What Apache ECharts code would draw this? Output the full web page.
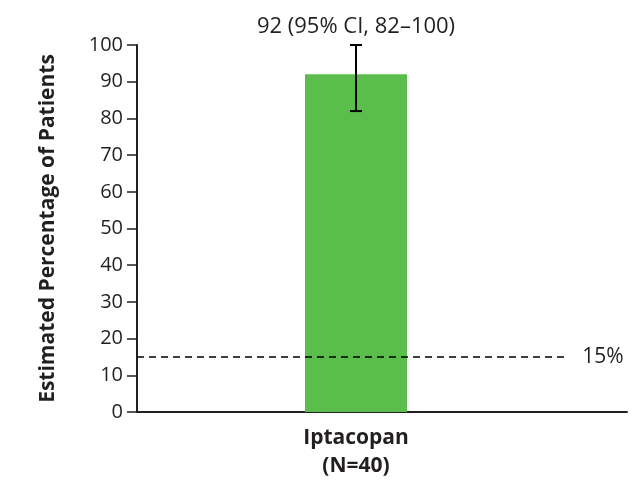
<!DOCTYPE html>
<html>
<head>
<meta charset="utf-8">
<script src="https://cdn.jsdelivr.net/npm/echarts@6/dist/echarts.min.js"></script>
<style>
  html, body { margin: 0; padding: 0; background: #fff; }
  #chart { width: 644px; height: 490px; }
</style>
</head>
<body>
<div id="chart"></div>
<script>
var categories = ['Iptacopan\n(N=40)']
var estimates = [92]
var ciLower = [82]
var ciUpper = [100]
var threshold = 15
var yMin = 0
var yMax = 100
var yStep = 10

var ink = '#231f20'
var font = '"Open Sans", "Noto Sans", sans-serif'

var chart = echarts.init(document.getElementById('chart'))

var errData = categories.map(function (c, i) {
  return [i, ciLower[i], ciUpper[i], estimates[i]]
})

var option = {
  animation: false,
  grid: [
    { left: 137, right: 17, top: 45, bottom: 78 },
    { left: 137, right: 69, top: 45, bottom: 78 }
  ],
  xAxis: [
    {
      gridIndex: 0,
      type: 'value',
      min: 0,
      max: 1,
      axisLine: { show: true, lineStyle: { color: ink, width: 2 } },
      axisTick: { show: false },
      axisLabel: { show: false },
      splitLine: { show: false }
    },
    {
      gridIndex: 1,
      type: 'category',
      data: categories,
      axisLine: { show: false },
      axisTick: { show: false },
      axisLabel: {
        margin: 12,
        color: ink,
        fontFamily: font,
        fontSize: 21,
        fontWeight: 'bold',
        lineHeight: 28
      }
    }
  ],
  yAxis: [
    {
      gridIndex: 0,
      type: 'value',
      min: yMin,
      max: yMax,
      interval: yStep,
      name: 'Estimated Percentage of Patients',
      nameLocation: 'middle',
      nameGap: 78,
      nameTextStyle: { color: ink, fontFamily: font, fontSize: 21, fontWeight: 'bold' },
      axisLine: { show: true, lineStyle: { color: ink, width: 2 } },
      axisTick: { show: true, length: 10, lineStyle: { color: ink, width: 1.5 } },
      axisLabel: { margin: 14, color: ink, fontFamily: font, fontSize: 20 },
      splitLine: { show: false }
    },
    {
      gridIndex: 1,
      type: 'value',
      min: yMin,
      max: yMax,
      show: false
    }
  ],
  series: [
    {
      type: 'line',
      xAxisIndex: 0,
      yAxisIndex: 0,
      data: [],
      silent: true,
      markLine: {
        silent: true,
        symbol: 'none',
        animation: false,
        lineStyle: { color: '#000', type: [7, 5], width: 1.6 },
        label: {
          show: true,
          position: 'end',
          distance: 14,
          formatter: threshold + '%',
          color: ink,
          fontFamily: font,
          fontSize: 21
        },
        data: [[{ coord: [0, threshold] }, { coord: [0.88, threshold] }]]
      }
    },
    {
      type: 'bar',
      xAxisIndex: 1,
      yAxisIndex: 1,
      data: estimates,
      barWidth: 102,
      itemStyle: { color: '#5bbd4c' },
      z: 1
    },
    {
      type: 'custom',
      xAxisIndex: 1,
      yAxisIndex: 1,
      data: errData,
      z: 5,
      renderItem: function (params, api) {
        var idx = api.value(0)
        var lo = api.coord([idx, api.value(1)])
        var hi = api.coord([idx, api.value(2)])
        var half = 6
        var st = { stroke: '#000', lineWidth: 2 }
        return {
          type: 'group',
          children: [
            { type: 'line', shape: { x1: lo[0], y1: lo[1], x2: hi[0], y2: hi[1] }, style: st },
            { type: 'line', shape: { x1: lo[0] - half, y1: lo[1], x2: lo[0] + half, y2: lo[1] }, style: st },
            { type: 'line', shape: { x1: hi[0] - half, y1: hi[1], x2: hi[0] + half, y2: hi[1] }, style: st },
            {
              type: 'text',
              x: hi[0],
              y: hi[1] - 18,
              style: {
                text: api.value(3) + ' (95% CI, ' + api.value(1) + '\u2013' + api.value(2) + ')',
                fill: ink,
                fontFamily: font,
                fontSize: 22,
                align: 'center',
                verticalAlign: 'middle'
              }
            }
          ]
        }
      }
    }
  ]
}

chart.setOption(option)
</script>
</body>
</html>
